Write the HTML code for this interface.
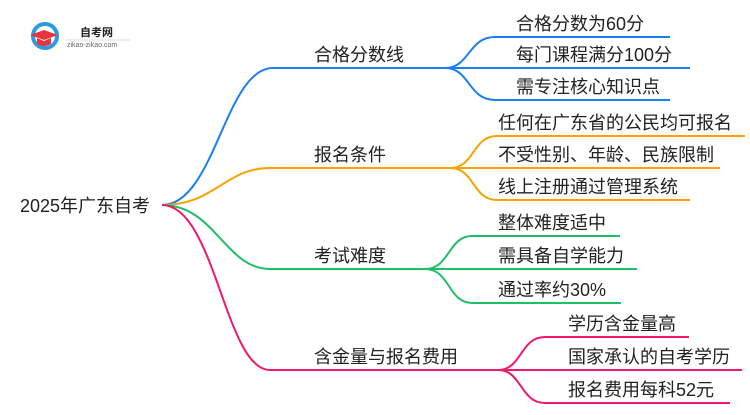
<!DOCTYPE html>
<html><head><meta charset="utf-8"><style>
body{margin:0;width:750px;height:410px;background:#fff;overflow:hidden}
svg text{font-family:"Liberation Sans","Noto Sans CJK SC",sans-serif;fill:#222}
</style></head><body>
<svg width="750" height="410" viewBox="0 0 750 410" xmlns="http://www.w3.org/2000/svg">
<g fill="none" stroke-width="2">
<path d="M162 205 C 215 205, 225 68, 273 68 L445 68" stroke="#1a7ff0"/>
<path d="M445 68 C 470 68, 468 37, 495 37 L670 37" stroke="#1a7ff0"/>
<path d="M445 68 L690 68" stroke="#1a7ff0"/>
<path d="M445 68 C 470 68, 468 100, 495 100 L670 100" stroke="#1a7ff0"/>
<path d="M162 205 C 215 205, 225 168, 270 168 L450 168" stroke="#f4a300"/>
<path d="M450 168 C 475 168, 472 136, 497 136 L745 136" stroke="#f4a300"/>
<path d="M450 168 L720 168" stroke="#f4a300"/>
<path d="M450 168 C 475 168, 472 200, 497 200 L690 200" stroke="#f4a300"/>
<path d="M162 205 C 215 205, 225 269, 270 269 L425 269" stroke="#1fbf6a"/>
<path d="M425 269 C 450 269, 448 236, 472 236 L620 236" stroke="#1fbf6a"/>
<path d="M425 269 L637 269" stroke="#1fbf6a"/>
<path d="M425 269 C 450 269, 448 303, 472 303 L621 303" stroke="#1fbf6a"/>
<path d="M162 205 C 215 205, 225 370, 270 370 L498 370" stroke="#f0186e"/>
<path d="M498 370 C 522 370, 520 337, 545 337 L689 337" stroke="#f0186e"/>
<path d="M498 370 L742 370" stroke="#f0186e"/>
<path d="M498 370 C 522 370, 520 403, 545 403 L730 403" stroke="#f0186e"/>
</g>
<g font-size="18">
<text x="20" y="212">2025年广东自考</text>
<text x="314" y="61">合格分数线</text>
<text x="314" y="161">报名条件</text>
<text x="314" y="262">考试难度</text>
<text x="314" y="363">含金量与报名费用</text>
<text x="516" y="30">合格分数为60分</text>
<text x="516" y="61">每门课程满分100分</text>
<text x="516" y="93">需专注核心知识点</text>
<text x="498" y="129">任何在广东省的公民均可报名</text>
<text x="498" y="161">不受性别、年龄、民族限制</text>
<text x="498" y="193">线上注册通过管理系统</text>
<text x="498" y="229">整体难度适中</text>
<text x="498" y="262">需具备自学能力</text>
<text x="498" y="296">通过率约30%</text>
<text x="568" y="330">学历含金量高</text>
<text x="568" y="363">国家承认的自考学历</text>
<text x="568" y="396">报名费用每科52元</text>
</g>
<circle cx="45" cy="36" r="12" fill="none" stroke="#2a9be0" stroke-width="4"/>
<path d="M44 30 L58 35 L44 40 L30 35 Z" fill="#e8353d"/>
<path d="M37 38 L37 44 Q44 48 51 44 L51 38 L44 41 Z" fill="#e8353d"/>
<text x="80" y="36" font-size="11" font-weight="bold">自考网</text>
<line x1="66" y1="40" x2="130" y2="40" stroke="#ddd" stroke-width="1"/>
<text x="67" y="47" font-size="7" fill="#666" style="fill:#666">zikao-zikao.com</text>
</svg>
</body></html>
